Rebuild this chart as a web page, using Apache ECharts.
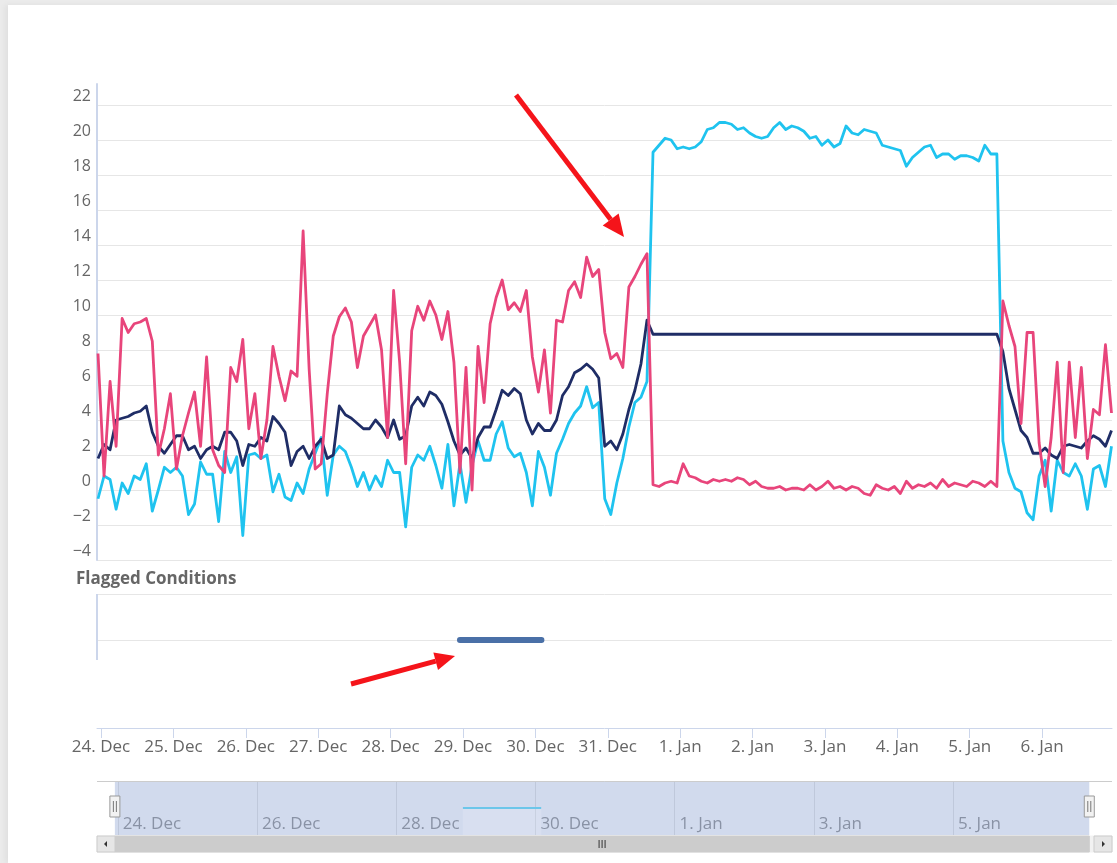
<!DOCTYPE html>
<html>
<head>
<meta charset="utf-8">
<title>Flagged Conditions</title>
<script src="https://cdn.jsdelivr.net/npm/echarts@6/dist/echarts.min.js"></script>
<style>
  html, body { margin: 0; padding: 0; width: 1117px; height: 863px; overflow: hidden; background: #ebebeb; }
  .card { position: absolute; left: 8px; top: 5px; right: 0; bottom: 0; background: #fff; box-shadow: -3px 0 6px rgba(0, 0, 0, 0.05); }
  #chart { position: absolute; left: 0; top: 0; width: 1117px; height: 863px; }
</style>
</head>
<body>
<div class="card"></div>
<div id="chart"></div>
<script>
// readings every 2 hours, first one at 23 Dec 23:00
const FIRST_READING = new Date(2018, 11, 23, 23, 0).getTime();
const STEP_MS = 2 * 3600 * 1000;

const pinkValues = [
  7.8, 0.8, 6.2, 2.5, 9.8, 9.0, 9.5, 9.6, 9.8, 8.5, 2.0, 3.5,
  5.5, 1.2, 3.1, 4.4, 5.6, 2.5, 7.6, 2.3, 1.4, 1.0, 7.0, 6.2,
  8.6, 3.5, 5.5, 1.8, 4.0, 8.2, 6.5, 5.1, 6.8, 6.5, 14.8, 6.9,
  1.2, 1.5, 5.5, 8.8, 9.9, 10.4, 9.6, 7.0, 8.8, 9.4, 10.0, 8.0,
  3.0, 11.4, 7.3, 1.5, 9.1, 10.5, 9.7, 10.8, 10.0, 8.6, 10.2, 7.3,
  1.0, 7.0, 0.0, 8.2, 5.0, 9.5, 11.0, 12.0, 10.3, 10.7, 10.2, 11.4,
  7.6, 5.6, 8.0, 4.4, 9.7, 9.6, 11.4, 11.9, 11.0, 13.3, 12.2, 12.6,
  9.0, 7.5, 7.8, 7.0, 11.6, 12.2, 12.9, 13.5, 0.3, 0.2, 0.4, 0.5,
  0.4, 1.5, 0.8, 0.7, 0.5, 0.4, 0.6, 0.5, 0.6, 0.5, 0.7, 0.6,
  0.3, 0.5, 0.2, 0.1, 0.1, 0.2, 0.0, 0.1, 0.1, 0.0, 0.3, 0.0,
  0.2, 0.5, 0.1, 0.2, 0.0, 0.2, 0.1, -0.2, -0.3, 0.3, 0.1, 0.0,
  0.2, -0.2, 0.5, 0.1, 0.3, 0.2, 0.4, 0.1, 0.6, 0.2, 0.4, 0.3,
  0.2, 0.5, 0.4, 0.2, 0.5, 0.2, 10.8, 9.4, 8.2, 3.8, 9.0, 9.0,
  2.7, 0.2, 3.0, 7.3, 1.0, 7.3, 3.0, 7.0, 1.8, 4.6, 4.3, 8.3,
  4.4
];

const cyanValues = [
  -0.5, 0.8, 0.6, -1.1, 0.4, -0.2, 0.8, 0.6, 1.5, -1.2, 0.0, 1.3,
  1.0, 1.3, 0.8, -1.4, -0.8, 1.6, 0.9, 0.9, -1.8, 2.2, 1.0, 1.9,
  -2.6, 2.0, 2.1, 1.8, 2.0, -0.1, 0.9, -0.4, -0.6, 0.4, -0.2, 1.2,
  2.1, 3.0, -0.3, 2.0, 2.5, 2.2, 1.3, 0.2, 1.0, 0.0, 0.8, 0.2,
  1.7, 1.0, 1.0, -2.1, 1.3, 2.0, 1.7, 2.5, 1.4, 0.1, 2.6, -0.9,
  1.5, -0.7, 1.4, 2.8, 1.7, 1.7, 3.2, 3.9, 2.4, 1.9, 2.1, 1.0,
  -0.9, 2.2, 1.3, -0.3, 2.1, 2.9, 3.8, 4.4, 4.8, 5.9, 4.7, 5.0,
  -0.5, -1.4, 0.4, 1.8, 3.6, 5.0, 5.3, 6.2, 19.3, 19.7, 20.1, 20.0,
  19.5, 19.6, 19.5, 19.6, 19.9, 20.6, 20.7, 21.0, 21.0, 20.9, 20.6, 20.7,
  20.4, 20.2, 20.1, 20.2, 20.7, 21.0, 20.6, 20.8, 20.7, 20.5, 20.1, 20.2,
  19.7, 20.0, 19.6, 19.8, 20.8, 20.4, 20.3, 20.6, 20.5, 20.4, 19.7, 19.6,
  19.5, 19.4, 18.5, 19.0, 19.3, 19.6, 19.7, 19.0, 19.2, 19.2, 18.9, 19.1,
  19.1, 19.0, 18.8, 19.7, 19.2, 19.2, 2.8, 1.0, 0.1, -0.1, -1.3, -1.7,
  0.8, 1.7, -1.2, 1.7, 1.0, 0.8, 1.5, 0.8, -1.1, 1.2, 1.4, 0.2,
  2.5
];

const navyValues = [
  1.8, 2.6, 2.3, 4.0, 4.1, 4.2, 4.4, 4.5, 4.8, 3.3, 2.5, 2.1,
  2.6, 3.1, 3.1, 2.3, 2.5, 1.8, 2.3, 2.5, 2.3, 3.3, 3.3, 2.8,
  1.4, 2.6, 2.5, 3.0, 2.8, 4.2, 3.8, 3.3, 1.4, 2.2, 2.5, 1.8,
  2.5, 2.9, 1.8, 2.0, 4.8, 4.3, 4.1, 3.8, 3.5, 3.5, 4.0, 3.6,
  3.0, 4.0, 2.9, 3.1, 4.8, 5.3, 4.8, 5.6, 5.4, 4.9, 3.9, 2.8,
  2.0, 2.4, 1.8, 3.0, 3.6, 3.6, 4.6, 5.7, 5.4, 5.8, 5.5, 4.0,
  3.2, 3.8, 3.4, 3.4, 4.0, 5.4, 5.9, 6.7, 6.9, 7.2, 6.9, 6.4,
  2.5, 2.8, 2.3, 3.2, 4.6, 5.7, 7.2, 9.7, 8.9, 8.9, 8.9, 8.9,
  8.9, 8.9, 8.9, 8.9, 8.9, 8.9, 8.9, 8.9, 8.9, 8.9, 8.9, 8.9,
  8.9, 8.9, 8.9, 8.9, 8.9, 8.9, 8.9, 8.9, 8.9, 8.9, 8.9, 8.9,
  8.9, 8.9, 8.9, 8.9, 8.9, 8.9, 8.9, 8.9, 8.9, 8.9, 8.9, 8.9,
  8.9, 8.9, 8.9, 8.9, 8.9, 8.9, 8.9, 8.9, 8.9, 8.9, 8.9, 8.9,
  8.9, 8.9, 8.9, 8.9, 8.9, 8.9, 7.9, 5.8, 4.6, 3.4, 3.0, 2.1,
  2.1, 2.4, 2.0, 1.8, 2.5, 2.6, 2.5, 2.4, 2.8, 3.1, 2.9, 2.5,
  3.4
];

// flagged condition: one period, drawn on the 0 line of its pane
const flagPeriod = [[2018, 11, 28, 23], [2018, 11, 30, 2]];
const flagValue = 0;

const dayTicks = [
  '2018-12-24', '2018-12-25', '2018-12-26', '2018-12-27', '2018-12-28',
  '2018-12-29', '2018-12-30', '2018-12-31', '2019-01-01', '2019-01-02',
  '2019-01-03', '2019-01-04', '2019-01-05', '2019-01-06'
];
const navigatorTicks = [
  '2018-12-24', '2018-12-26', '2018-12-28', '2018-12-30',
  '2019-01-01', '2019-01-03', '2019-01-05'
];
const MONTHS = ['Jan', 'Feb', 'Mar', 'Apr', 'May', 'Jun', 'Jul', 'Aug', 'Sep', 'Oct', 'Nov', 'Dec'];

const FONT = '"Open Sans", "DejaVu Sans", sans-serif';
const AXIS_COLOR = '#ccd6eb';
const GRID_COLOR = '#e6e6e6';

// layout
const PLOT_LEFT = 97;
const PLOT_RIGHT = 1112;
const FLAG_TOP = 594;
const FLAG_AXIS_END = 660;
const NAV_TOP = 781;
const NAV_HEIGHT = 54;
const SCROLL_TOP = 836;
const SCROLL_HEIGHT = 16;

function localDay(s) {
  const [y, m, d] = s.split('-').map(Number);
  return new Date(y, m - 1, d).getTime();
}
function dayLabel(value) {
  const d = new Date(value);
  return d.getDate() + '. ' + MONTHS[d.getMonth()];
}
function toSeries(values) {
  return values.map((v, i) => [FIRST_READING + i * STEP_MS, v]);
}

const lastReading = FIRST_READING + (pinkValues.length - 1) * STEP_MS;
const flagStart = new Date(...flagPeriod[0]).getTime();
const flagEnd = new Date(...flagPeriod[1]).getTime();
const flagData = [[flagStart, flagValue], [flagEnd, flagValue]];

const xMin = new Date(2018, 11, 23, 22, 40).getTime();
const xMax = new Date(2019, 0, 6, 23, 10).getTime();
const navMin = new Date(2018, 11, 23, 16, 50).getTime();
const navMax = new Date(2019, 0, 7, 6, 50).getTime();

const mainTicks = dayTicks.map(localDay);
const navTicks = navigatorTicks.map(localDay);

const chart = echarts.init(document.getElementById('chart'));

const option = {
  animation: false,
  textStyle: { fontFamily: FONT },
  title: {
    text: 'Flagged Conditions',
    left: 76,
    top: 571,
    padding: 0,
    textStyle: { fontFamily: FONT, fontSize: 17, fontWeight: 'bold', color: '#666666' }
  },
  grid: [
    { left: PLOT_LEFT, right: 1117 - PLOT_RIGHT, top: 84, bottom: 303 },
    { left: PLOT_LEFT, right: 1117 - PLOT_RIGHT, top: FLAG_TOP, height: 46 },
    { left: PLOT_LEFT, right: 1117 - PLOT_RIGHT, top: NAV_TOP, height: NAV_HEIGHT }
  ],
  xAxis: [
    { type: 'value', gridIndex: 0, min: xMin, max: xMax, show: false },
    {
      type: 'value', gridIndex: 1, min: xMin, max: xMax, position: 'bottom', offset: 88,
      axisLine: { onZero: false, lineStyle: { color: AXIS_COLOR, width: 1 } },
      axisTick: { length: 10, lineStyle: { color: AXIS_COLOR }, customValues: mainTicks },
      axisLabel: {
        customValues: mainTicks, formatter: dayLabel, color: '#666666',
        fontFamily: FONT, fontSize: 17, margin: 11
      },
      splitLine: { show: false }
    },
    {
      type: 'value', gridIndex: 2, min: navMin, max: navMax, position: 'bottom',
      axisLine: { show: false, onZero: false },
      axisTick: { show: false, customValues: navTicks },
      axisLabel: {
        inside: true, customValues: navTicks, formatter: dayLabel, align: 'left',
        color: '#999999', fontFamily: FONT, fontSize: 17, margin: 2, padding: [0, 0, 0, 5]
      },
      splitLine: { show: true, lineStyle: { color: GRID_COLOR } }
    }
  ],
  yAxis: [
    {
      type: 'value', gridIndex: 0, min: -4, max: 23.2, interval: 2,
      axisLine: { show: true, onZero: false, lineStyle: { color: AXIS_COLOR, width: 2 } },
      axisTick: { show: false },
      splitLine: { show: true, showMaxLine: false, lineStyle: { color: GRID_COLOR } },
      axisLabel: {
        showMaxLabel: false, color: '#666666', fontFamily: FONT, fontSize: 16,
        margin: 6, verticalAlign: 'bottom', lineHeight: 18,
        formatter: (v) => String(v).replace('-', '\u2212')
      }
    },
    {
      type: 'value', gridIndex: 1, min: 0, max: 1, interval: 1,
      axisLine: { show: false }, axisTick: { show: false }, axisLabel: { show: false },
      splitLine: { show: true, lineStyle: { color: GRID_COLOR } }
    },
    { type: 'value', gridIndex: 2, min: -1, max: 1, show: false, splitLine: { show: false } }
  ],
  series: [
    {
      name: 'Cyan', type: 'line', xAxisIndex: 0, yAxisIndex: 0, data: toSeries(cyanValues),
      symbol: 'none', lineStyle: { color: '#1fc3ef', width: 2.8, join: 'round' }, itemStyle: { color: '#1fc3ef' }
    },
    {
      name: 'Navy', type: 'line', xAxisIndex: 0, yAxisIndex: 0, data: toSeries(navyValues),
      symbol: 'none', lineStyle: { color: '#1f2d66', width: 2.8, join: 'round' }, itemStyle: { color: '#1f2d66' }
    },
    {
      name: 'Pink', type: 'line', xAxisIndex: 0, yAxisIndex: 0, data: toSeries(pinkValues),
      symbol: 'none', lineStyle: { color: '#e8457b', width: 2.8, join: 'round' }, itemStyle: { color: '#e8457b' }
    },
    {
      name: 'Flagged', type: 'line', xAxisIndex: 1, yAxisIndex: 1, data: flagData,
      symbol: 'none', clip: false, lineStyle: { color: '#4a70a7', width: 6, cap: 'round' }
    },
    {
      name: 'Navigator', type: 'line', xAxisIndex: 2, yAxisIndex: 2, data: flagData,
      symbol: 'none', silent: true,
      lineStyle: { color: '#6cc6ea', width: 2 },
      areaStyle: { origin: 'start', color: 'rgba(255,255,255,0.22)' },
      markArea: {
        silent: true,
        itemStyle: { color: 'rgba(102,133,194,0.3)' },
        data: [[{ xAxis: FIRST_READING }, { xAxis: lastReading }]]
      }
    }
  ]
};

chart.setOption(option);

// navigator handles, scrollbar and the two red call-out arrows
function arrow(tail, tip, headLen, headHalf) {
  const dx = tip[0] - tail[0], dy = tip[1] - tail[1];
  const len = Math.sqrt(dx * dx + dy * dy);
  const ux = dx / len, uy = dy / len;
  const bx = tip[0] - ux * headLen, by = tip[1] - uy * headLen;
  return [
    { type: 'line', z: 20, silent: true, shape: { x1: tail[0], y1: tail[1], x2: bx, y2: by },
      style: { stroke: '#f5141a', lineWidth: 5 } },
    { type: 'polygon', z: 20, silent: true,
      shape: { points: [tip, [bx - uy * headHalf, by + ux * headHalf], [bx + uy * headHalf, by - ux * headHalf]] },
      style: { fill: '#f5141a' } }
  ];
}

function handle(x) {
  const cy = NAV_TOP + 25;
  return [
    { type: 'rect', z: 15, silent: true, shape: { x: x - 5, y: cy - 10, width: 10, height: 21 },
      style: { fill: '#f2f2f2', stroke: '#999999', lineWidth: 1 } },
    { type: 'line', z: 16, silent: true, shape: { x1: x - 1.5, y1: cy - 5, x2: x - 1.5, y2: cy + 6 },
      style: { stroke: '#777777', lineWidth: 1 } },
    { type: 'line', z: 16, silent: true, shape: { x1: x + 1.5, y1: cy - 5, x2: x + 1.5, y2: cy + 6 },
      style: { stroke: '#777777', lineWidth: 1 } }
  ];
}

const lx = chart.convertToPixel({ xAxisIndex: 2 }, FIRST_READING);
const rx = chart.convertToPixel({ xAxisIndex: 2 }, lastReading);
const sy = SCROLL_TOP, sh = SCROLL_HEIGHT, mid = SCROLL_TOP + SCROLL_HEIGHT / 2;
const gx = (lx + rx) / 2;

const chrome = [
  { type: 'line', z: 5, silent: true, shape: { x1: PLOT_LEFT, y1: FLAG_TOP, x2: PLOT_LEFT, y2: FLAG_AXIS_END },
    style: { stroke: AXIS_COLOR, lineWidth: 2 } },
  { type: 'line', z: 5, silent: true, shape: { x1: PLOT_LEFT, y1: NAV_TOP + 0.5, x2: PLOT_RIGHT, y2: NAV_TOP + 0.5 },
    style: { stroke: '#cccccc', lineWidth: 1 } },
  { type: 'rect', z: 5, silent: true, shape: { x: PLOT_LEFT, y: sy, width: PLOT_RIGHT - PLOT_LEFT, height: sh },
    style: { fill: '#f2f2f2', stroke: '#f2f2f2' } },
  { type: 'rect', z: 6, silent: true, shape: { x: lx, y: sy, width: rx - lx, height: sh },
    style: { fill: '#cccccc', stroke: '#cccccc' } },
  { type: 'rect', z: 6, silent: true, shape: { x: PLOT_LEFT, y: sy, width: 18, height: sh },
    style: { fill: '#e6e6e6', stroke: '#cccccc' } },
  { type: 'rect', z: 6, silent: true, shape: { x: PLOT_RIGHT - 18, y: sy, width: 18, height: sh },
    style: { fill: '#e6e6e6', stroke: '#cccccc' } },
  { type: 'polygon', z: 7, silent: true,
    shape: { points: [[PLOT_LEFT + 7, mid], [PLOT_LEFT + 10, mid - 3], [PLOT_LEFT + 10, mid + 3]] },
    style: { fill: '#333333' } },
  { type: 'polygon', z: 7, silent: true,
    shape: { points: [[PLOT_RIGHT - 7, mid], [PLOT_RIGHT - 10, mid - 3], [PLOT_RIGHT - 10, mid + 3]] },
    style: { fill: '#333333' } }
];
[-3, 0, 3].forEach((o) => {
  chrome.push({ type: 'line', z: 7, silent: true, shape: { x1: gx + o, y1: mid - 4, x2: gx + o, y2: mid + 4 },
    style: { stroke: '#333333', lineWidth: 1 } });
});

const graphics = chrome
  .concat(handle(lx), handle(rx))
  .concat(arrow([516, 95], [624, 237], 22, 10))
  .concat(arrow([351, 684], [455, 656], 20, 9));

chart.setOption({ graphic: graphics });
</script>
</body>
</html>
